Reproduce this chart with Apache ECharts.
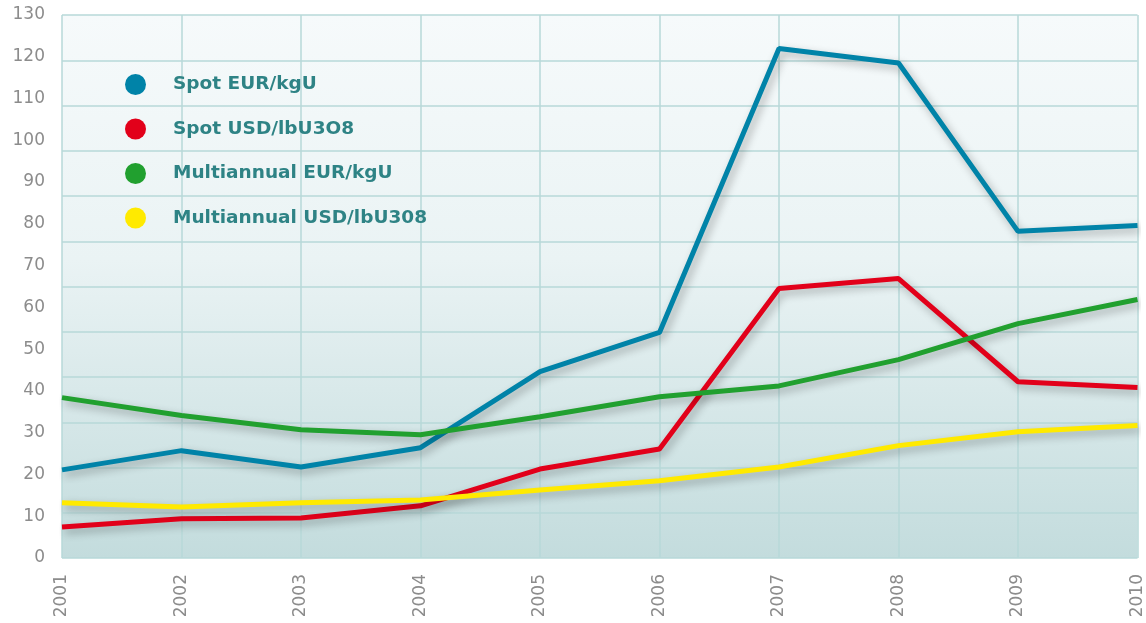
<!DOCTYPE html>
<html>
<head>
<meta charset="utf-8">
<script src="https://cdn.jsdelivr.net/npm/echarts@6/dist/echarts.min.js"></script>
<style>
  html, body { margin: 0; padding: 0; background: #fff; }
  #chart { width: 1146px; height: 623px; }
</style>
</head>
<body>
<div id="chart"></div>
<script>
const years = ['2001','2002','2003','2004','2005','2006','2007','2008','2009','2010'];
const spotEur = [21.1, 25.7, 21.8, 26.4, 44.6, 54, 122, 118.5, 78.2, 79.6];
const spotUsd = [7.4, 9.4, 9.6, 12.5, 21.3, 26.1, 64.5, 66.9, 42.2, 40.8];
const multiEur = [38.4, 34.1, 30.7, 29.5, 33.8, 38.6, 41.2, 47.5, 56.1, 61.9];
const multiUsd = [13.2, 12.2, 13.2, 13.9, 16.3, 18.5, 21.8, 26.9, 30.2, 31.7];

const names = ['Spot EUR/kgU', 'Spot USD/lbU3O8', 'Multiannual EUR/kgU', 'Multiannual USD/lbU308'];
const colors = ['#0083a8', '#e2001a', '#21a02f', '#ffea00'];
const gridColor = '#b7d8d8';

const chart = echarts.init(document.getElementById('chart'));

function line(name, data, color) {
  return {
    name: name,
    type: 'line',
    data: data,
    yAxisIndex: 0,
    symbol: 'none',
    color: color,
    lineStyle: {
      width: 5,
      color: color,
      shadowColor: 'rgba(0,0,0,0.3)',
      shadowBlur: 8,
      shadowOffsetX: 3,
      shadowOffsetY: 4
    },
    emphasis: { disabled: true }
  };
}

chart.setOption({
  animation: false,
  grid: {
    left: 62, right: 4, top: 15, bottom: 65,
    show: true,
    borderWidth: 0,
    backgroundColor: new echarts.graphic.LinearGradient(0, 0, 0, 1, [
      { offset: 0, color: '#f6fafb' },
      { offset: 0.45, color: '#eaf3f4' },
      { offset: 1, color: '#c3dcdd' }
    ])
  },
  legend: {
    orient: 'vertical',
    left: 120, top: 69,
    itemWidth: 21, itemHeight: 21,
    itemGap: 23.5,
    icon: 'circle',
    data: names,
    textStyle: {
      fontFamily: 'DejaVu Sans',
      fontWeight: 'bold',
      fontSize: 18.5,
      color: '#2e8385',
      padding: [0, 0, 0, 22]
    }
  },
  xAxis: {
    type: 'category',
    data: years,
    boundaryGap: false,
    axisLine: { show: false },
    axisTick: { show: false },
    splitLine: { show: true, lineStyle: { color: gridColor, width: 1.5 } },
    axisLabel: {
      rotate: 90,
      margin: 16,
      fontFamily: 'DejaVu Sans',
      fontSize: 17,
      color: '#8c8c8c'
    }
  },
  yAxis: [
    {
      type: 'value',
      min: 0, max: 130, interval: 10,
      axisLine: { show: false },
      axisTick: { show: false },
      splitLine: { show: false },
      axisLabel: {
        margin: 17,
        fontFamily: 'DejaVu Sans',
        fontSize: 17,
        color: '#8c8c8c'
      }
    },
    {
      type: 'value',
      position: 'left',
      min: 0, max: 12, interval: 1,
      axisLine: { show: false },
      axisTick: { show: false },
      axisLabel: { show: false },
      splitLine: { show: true, lineStyle: { color: gridColor, width: 1.5 } }
    }
  ],
  series: [
    line(names[0], spotEur, colors[0]),
    line(names[1], spotUsd, colors[1]),
    line(names[2], multiEur, colors[2]),
    line(names[3], multiUsd, colors[3])
  ]
});
</script>
</body>
</html>
